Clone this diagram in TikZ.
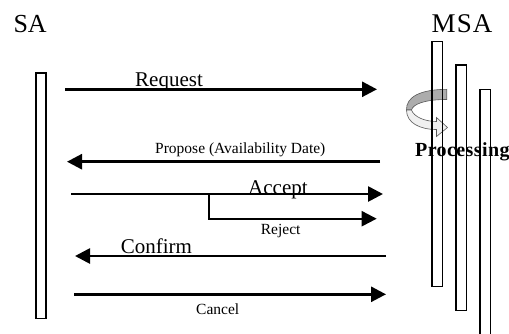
\documentclass[tikz,border=0pt]{standalone}
\usepackage{fontspec}
\setmainfont{Liberation Serif}
\usetikzlibrary{arrows.meta}
\begin{document}
\begin{tikzpicture}[x=1pt,y=-1pt,
  life/.style={draw=black,line width=1.2pt},
  msg/.style={line width=2.7pt,-{Triangle[length=15pt,width=15pt]}},
  big/.style={inner sep=0pt,anchor=base west,font=\fontsize{21}{24}\selectfont},
  small/.style={inner sep=0pt,anchor=base west,font=\fontsize{15.5}{18}\selectfont},
  title/.style={inner sep=0pt,anchor=base west,font=\fontsize{26}{30}\selectfont}]
\useasboundingbox (0,0) rectangle (509,333);
\fill[white] (0,0) rectangle (509,333);
% titles
\node[title] (sa) at (13.3,32.3) {SA};
\node[title] (msa) at (431.5,32.5) {\fontsize{27}{30}\selectfont\addfontfeature{LetterSpace=4}MSA};
% curved processing arrow
\draw[draw=black!65,line width=0.6pt,fill=gray!65]
  (446.7,89.3) .. controls (420,89.5) and (406,97) .. (406.5,110)
  -- (411.5,110) .. controls (413,104) and (425,99.5) .. (446.7,99.5) -- cycle;
\draw[draw=black!65,line width=0.6pt,fill=gray!12]
  (406.5,110) .. controls (406.5,123) and (420,129.5) .. (436.5,129.5)
  -- (436.5,136.5) -- (447.5,127.5) -- (436.5,117.5) -- (436.5,121.5)
  .. controls (425,121.5) and (414,117) .. (411.5,110) -- cycle;
% processing label
\node[inner sep=0pt,anchor=base west,font=\fontsize{20}{23}\selectfont\bfseries] (proc) at (415,156)
  {\addfontfeature{LetterSpace=2}Processing};
% lifelines
\draw[life] (36,73) rectangle (46,318.3);
\draw[life] (432,41.7) rectangle (442.5,286.7);
\draw[life] (456,65) rectangle (466.5,310.7);
\draw[life] (480,89.3) rectangle (490.5,345);
% message endpoints
\coordinate (rq1) at (65,89.3);   \coordinate (rq2) at (377,89.3);
\coordinate (pp1) at (380,161.7); \coordinate (pp2) at (67,161.7);
\coordinate (ac1) at (71,194);    \coordinate (ac2) at (383,194);
\coordinate (rj1) at (209.3,194); \coordinate (rj2) at (376.7,218.7);
\coordinate (cf1) at (386,256);   \coordinate (cf2) at (75,256);
\coordinate (cn1) at (74,294.3);  \coordinate (cn2) at (386,294.3);
% messages
\draw[msg] (rq1) -- (rq2);
\draw[msg] (pp1) -- (pp2);
\draw[msg] (ac1) -- (ac2);
\draw[msg,line width=2.2pt] (rj1) |- (rj2);
\draw[msg] (cf1) -- (cf2);
\draw[msg] (cn1) -- (cn2);
% labels
\node[big] (lrq) at (135,86.7) {Request};
\node[small] (lpp) at (155,153) {Propose (Availability Date)};
\node[big] (lac) at (248,194) {Accept};
\node[small] (lrj) at (260.7,234) {Reject};
\node[big] (lcf) at (120.7,253.3) {Confirm};
\node[small] (lcn) at (196,314) {Cancel};
\end{tikzpicture}
\end{document}
